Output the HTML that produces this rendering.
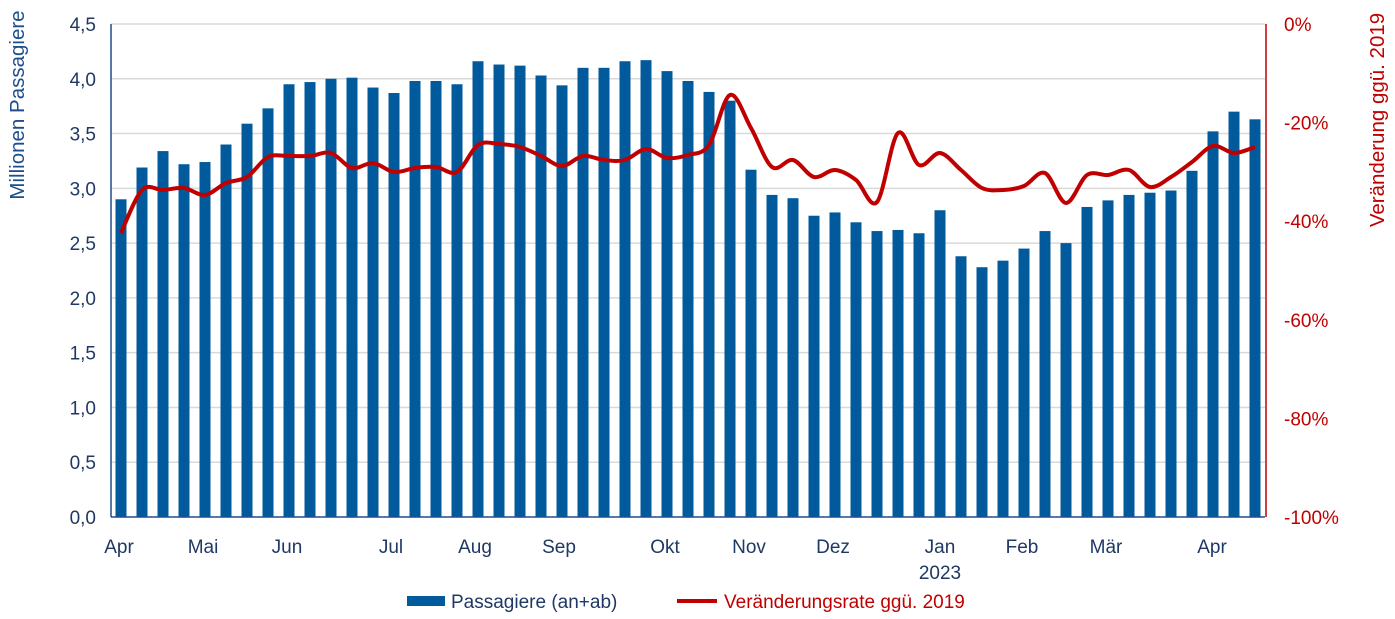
<!DOCTYPE html>
<html><head><meta charset="utf-8"><style>
body{margin:0;background:#fff;}
svg{display:block;font-family:"Liberation Sans",sans-serif;}
</style></head><body>
<svg id="c" width="1395" height="619" xmlns="http://www.w3.org/2000/svg"></svg>
<script>
const s=document.getElementById('c');let h='';
const vals=[2.9,3.19,3.34,3.22,3.24,3.40,3.59,3.73,3.95,3.97,4.00,4.01,3.92,3.87,3.98,3.98,3.95,4.16,4.13,4.12,4.03,3.94,4.10,4.10,4.16,4.17,4.07,3.98,3.88,3.80,3.17,2.94,2.91,2.75,2.78,2.69,2.61,2.62,2.59,2.80,2.38,2.28,2.34,2.45,2.61,2.50,2.83,2.89,2.94,2.96,2.98,3.16,3.52,3.70,3.63];
const ly=[233,190,190,188,195,183,177,157,156,156,153,168,163,172,168,167,172,145,144,147,156,166,156,160,160,149,158,155,145,95,128,167,160,177,170,180,202,133,165,153,170,188,190,186,173,203,175,175,170,187,177,162,146,153,147];
const y0=517,k=493/4.5;
for(let i=1;i<=9;i++){const y=y0-i*0.5*k;h+=`<line x1="111" y1="${y}" x2="1265" y2="${y}" stroke="#d9d9d9" stroke-width="1.5"/>`;}
vals.forEach((v,i)=>{const cx=121+21*i;const t=y0-v*k;h+=`<rect x="${cx-5.5}" y="${t}" width="11" height="${y0-t}" fill="#005a9c"/>`;});
h+=`<line x1="111" y1="24" x2="111" y2="517" stroke="#1f4e8c" stroke-width="1.5"/>`;
h+=`<line x1="111" y1="517" x2="1265" y2="517" stroke="#1f4e8c" stroke-width="1.5"/>`;
for(let i=0;i<=9;i++){const y=y0-i*0.5*k;h+=`<text x="96" y="${y+7}" font-size="19" fill="#1f3864" text-anchor="end">${(i*0.5).toFixed(1).replace('.',',')}</text>`;}
h+=`<line x1="1266" y1="24" x2="1266" y2="517" stroke="#c00000" stroke-width="1.5"/>`;
for(let i=0;i<=5;i++){const y=24+i*493/5;h+=`<text x="1284" y="${y+7}" font-size="19" fill="#c00000">${i==0?'0%':'-'+(i*20)+'%'}</text>`;}
const P=ly.map((y,i)=>[121+21*i,y]);let d=`M${P[0][0]},${P[0][1]}`;
for(let i=0;i<P.length-1;i++){const p0=P[Math.max(0,i-1)],p1=P[i],p2=P[i+1],p3=P[Math.min(P.length-1,i+2)];
d+=` C${p1[0]+(p2[0]-p0[0])/6},${p1[1]+(p2[1]-p0[1])/6} ${p2[0]-(p3[0]-p1[0])/6},${p2[1]-(p3[1]-p1[1])/6} ${p2[0]},${p2[1]}`;}
h+=`<path d="${d}" fill="none" stroke="#c00000" stroke-width="4" stroke-linejoin="round"/>`;
[["Apr",119],["Mai",203],["Jun",287],["Jul",391],["Aug",475],["Sep",559],["Okt",665],["Nov",749],["Dez",833],["Jan",940],["Feb",1022],["Mär",1106],["Apr",1212]].forEach(([t,x])=>{h+=`<text x="${x}" y="553" font-size="19" fill="#1f3864" text-anchor="middle">${t}</text>`;});
h+=`<text x="940" y="579" font-size="19" fill="#1f3864" text-anchor="middle">2023</text>`;
h+=`<text transform="translate(24,105) rotate(-90)" font-size="20.5" fill="#1f4e8c" text-anchor="middle">Millionen Passagiere</text>`;
h+=`<text transform="translate(1384,120) rotate(-90)" font-size="20.5" fill="#c00000" text-anchor="middle">Veränderung ggü. 2019</text>`;
h+=`<rect x="407" y="596" width="38" height="10" fill="#005a9c"/><text x="451" y="608" font-size="19" fill="#1f3864">Passagiere (an+ab)</text>`;
h+=`<line x1="677" y1="601" x2="717" y2="601" stroke="#c00000" stroke-width="4"/><text x="724" y="608" font-size="19" fill="#c00000">Veränderungsrate ggü. 2019</text>`;
s.innerHTML=h;
</script>
</body></html>
